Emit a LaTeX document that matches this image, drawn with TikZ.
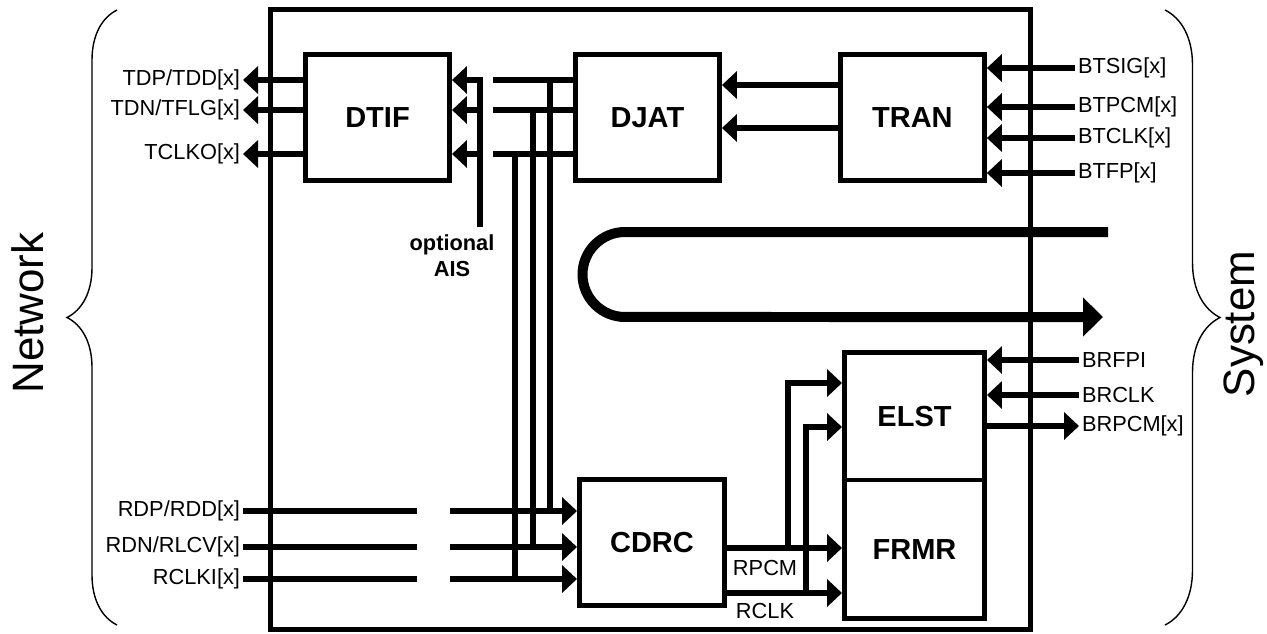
\documentclass[tikz,border=0pt]{standalone}
\usepackage{fontspec}
\setmainfont{Liberation Sans}
\usetikzlibrary{arrows.meta,positioning,decorations.pathreplacing}

\begin{document}
\begin{tikzpicture}[x=0.02cm,y=-0.02cm,
  blk/.style={draw,line width=0.1cm,minimum width=2.88cm,minimum height=2.52cm,inner sep=0pt,font=\bfseries\fontsize{16.5}{18}\selectfont},
  wire/.style={line width=0.11cm},
  sig/.style={wire,-{Triangle[length=0.3cm,width=0.54cm]}},
  lbl/.style={inner sep=1.5pt,font=\fontsize{12.4}{14}\selectfont},
  brc/.style={line width=0.8pt,decorate,decoration={brace,amplitude=#1}},
  side/.style={rotate=90,inner sep=0pt,font=\fontsize{25}{28}\selectfont}]
\useasboundingbox (0,0) rectangle (1267,633);
\node[draw,line width=0.1cm,minimum width=15.21cm,minimum height=12.41cm] (chip) at (650.75,319.75) {};
\node[blk] (dtif) at (377.5,117.5) {DTIF};
\node[blk,right=2.42cm of dtif] (djat) {DJAT};
\node[blk,right=2.32cm of djat] (tran) {TRAN};
\node[blk,minimum width=2.9cm] (cdrc) at (652,542.5) {CDRC};
\node[blk,minimum width=2.8cm,minimum height=2.55cm] (elst) at (914.5,416.25) {ELST};
\node[blk,minimum width=2.8cm,minimum height=2.77cm,below=-0.1cm of elst] (frmr) {FRMR};
\node[side] (net) at (28,313) {Network};
\node[side] (sys) at (1244,324) {System};
\draw[brc=1cm] (117,625) -- (117,10);
\draw[brc=1.1cm] (1165,10) -- (1165,625);
\node[lbl,anchor=east] (tdp) at (243,80) {TDP/TDD[x]};
\node[lbl,anchor=east] (tdn) at (243,110) {TDN/TFLG[x]};
\node[lbl,anchor=east] (tclko) at (243,154) {TCLKO[x]};
\node[lbl,anchor=east] (rdp) at (243,511) {RDP/RDD[x]};
\node[lbl,anchor=east] (rdn) at (243,547) {RDN/RLCV[x]};
\node[lbl,anchor=east] (rclki) at (243,579) {RCLKI[x]};
\node[lbl,anchor=west] (btsig) at (1075,68) {BTSIG[x]};
\node[lbl,anchor=west] (btpcm) at (1075,107) {BTPCM[x]};
\node[lbl,anchor=west] (btclk) at (1075,138) {BTCLK[x]};
\node[lbl,anchor=west] (btfp) at (1075,173) {BTFP[x]};
\node[lbl,anchor=west] (brfpi) at (1079,360) {BRFPI};
\node[lbl,anchor=west] (brclk) at (1079,395) {BRCLK};
\node[lbl,anchor=west] (brpcm) at (1079,426) {BRPCM[x]};
\node[lbl,anchor=west] (rpcm) at (730,568) {RPCM};
\node[lbl,anchor=west] (rclk) at (733,611) {RCLK};
\node[align=center,inner sep=0pt,font=\bfseries\fontsize{12.4}{14.7}\selectfont] (aisl) at (452,256) {optional\\AIS};
\coordinate (ais) at (480,227);
\coordinate (mux) at (493,0);
\coordinate (lp1) at (550,0);
\coordinate (lp2) at (533,0);
\coordinate (lp3) at (515,0);
\coordinate (rgap) at (417,0);
\coordinate (rmux) at (450,0);
\coordinate (t1) at (788,548);
\coordinate (t2) at (806,593);
\coordinate (bin) at (1108,232);
\coordinate (bout) at (1103,317);
\draw[sig] (tdp.east -| dtif.west) -- (tdp.east);
\draw[sig] (tdn.east -| dtif.west) -- (tdn.east);
\draw[sig] (tclko.east -| dtif.west) -- (tclko.east);
\draw[sig] (ais) |- (tdp.east -| dtif.east);
\draw[sig] (ais |- tdn.east) -- (tdn.east -| dtif.east);
\draw[sig] (ais |- tclko.east) -- (tclko.east -| dtif.east);
\draw[wire] (mux |- tdp.east) -- (tdp.east -| djat.west);
\draw[wire] (mux |- tdn.east) -- (tdn.east -| djat.west);
\draw[wire] (mux |- tclko.east) -- (tclko.east -| djat.west);
\draw[wire] (lp1 |- tdp.east) -- (lp1 |- rdp.east);
\draw[wire] (lp2 |- tdn.east) -- (lp2 |- rdn.east);
\draw[wire] (lp3 |- tclko.east) -- (lp3 |- rclki.east);
\draw[wire] (rdp.east) -- (rgap |- rdp.east);
\draw[wire] (rdn.east) -- (rgap |- rdn.east);
\draw[wire] (rclki.east) -- (rgap |- rclki.east);
\draw[sig] (rmux |- rdp.east) -- (rdp.east -| cdrc.west);
\draw[sig] (rmux |- rdn.east) -- (rdn.east -| cdrc.west);
\draw[sig] (rmux |- rclki.east) -- (rclki.east -| cdrc.west);
\draw[sig] ([yshift=0.65cm]tran.west) -- ([yshift=0.65cm]tran.west -| djat.east);
\draw[sig] ([yshift=-0.21cm]tran.west) -- ([yshift=-0.21cm]tran.west -| djat.east);
\draw[sig] (btsig.west) -- (btsig.west -| tran.east);
\draw[sig] (btpcm.west) -- (btpcm.west -| tran.east);
\draw[sig] (btclk.west) -- (btclk.west -| tran.east);
\draw[sig] (btfp.west) -- (btfp.west -| tran.east);
\draw[sig] (brfpi.west) -- (brfpi.west -| elst.east);
\draw[sig] (brclk.west) -- (brclk.west -| elst.east);
\draw[sig] (brpcm.west -| elst.east) -- (brpcm.west);
\draw[sig] ([yshift=-0.11cm]cdrc.east) -- ([yshift=-0.11cm]cdrc.east -| frmr.west);
\draw[sig] ([yshift=-1.01cm]cdrc.east) -- ([yshift=-1.01cm]cdrc.east -| frmr.west);
\draw[sig] (t1) |- ([yshift=0.665cm]elst.west);
\draw[sig] (t2) |- ([yshift=-0.215cm]elst.west);
\draw[line width=0.2cm,-{Triangle[length=0.4cm,width=0.76cm]}] (bin) -- (625,232) arc[start angle=90,end angle=270,radius=0.85cm] -- (bout);
\end{tikzpicture}
\end{document}
